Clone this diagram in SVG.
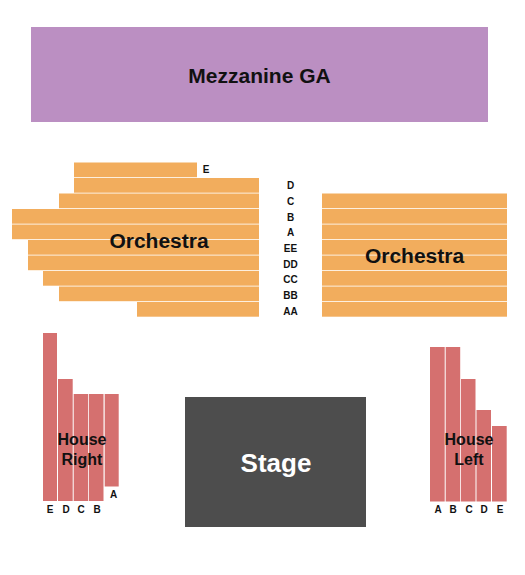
<svg xmlns="http://www.w3.org/2000/svg" width="525" height="575" viewBox="0 0 525 575">
<style>
.o{fill:#F2AD5D}
.h{fill:#D5706F}
.lbl{font-family:"Liberation Sans",Arial,sans-serif;font-weight:bold;fill:#111}
.big{font-size:21px;text-anchor:middle}
.hs{font-size:16px;text-anchor:middle}
.row{font-size:10px;text-anchor:middle}
</style>
<rect width="525" height="575" fill="#fff"/>
<g id="mezzanine">
<rect x="31" y="27" width="457" height="95" fill="#BB8FC2"/>
<text class="lbl big" x="259.5" y="83">Mezzanine GA</text>
</g>
<g id="orchestra-left">
<rect class="o" x="74" y="162.5" width="123" height="14.7"/>
<rect class="o" x="74" y="178" width="185" height="14.7"/>
<rect class="o" x="59" y="193.5" width="200" height="14.7"/>
<rect class="o" x="12" y="209" width="247" height="14.7"/>
<rect class="o" x="12" y="224.5" width="247" height="14.7"/>
<rect class="o" x="28" y="240" width="231" height="14.7"/>
<rect class="o" x="28" y="255.5" width="231" height="14.7"/>
<rect class="o" x="43" y="271" width="216" height="14.7"/>
<rect class="o" x="59" y="286.5" width="200" height="14.7"/>
<rect class="o" x="137" y="302" width="122" height="14.7"/>
<text class="lbl big" x="159" y="248">Orchestra</text>
</g>
<g id="orchestra-right">
<rect class="o" x="322" y="193.5" width="185" height="14.7"/>
<rect class="o" x="322" y="209" width="185" height="14.7"/>
<rect class="o" x="322" y="224.5" width="185" height="14.7"/>
<rect class="o" x="322" y="240" width="185" height="14.7"/>
<rect class="o" x="322" y="255.5" width="185" height="14.7"/>
<rect class="o" x="322" y="271" width="185" height="14.7"/>
<rect class="o" x="322" y="286.5" width="185" height="14.7"/>
<rect class="o" x="322" y="302" width="185" height="14.7"/>
<text class="lbl big" x="414.5" y="263">Orchestra</text>
</g>
<g id="row-labels">
<text class="lbl row" x="206" y="173">E</text>
<text class="lbl row" x="290.5" y="189">D</text>
<text class="lbl row" x="290.5" y="205">C</text>
<text class="lbl row" x="290.5" y="221">B</text>
<text class="lbl row" x="290.5" y="236">A</text>
<text class="lbl row" x="290.5" y="252">EE</text>
<text class="lbl row" x="290.5" y="268">DD</text>
<text class="lbl row" x="290.5" y="283">CC</text>
<text class="lbl row" x="290.5" y="299">BB</text>
<text class="lbl row" x="290.5" y="315">AA</text>
</g>
<g id="house-right">
<rect class="h" x="43" y="333" width="14" height="168"/>
<rect class="h" x="58" y="379" width="14.7" height="122"/>
<rect class="h" x="73.7" y="394" width="14.5" height="107"/>
<rect class="h" x="89" y="394" width="14.5" height="107"/>
<rect class="h" x="104.7" y="394" width="14" height="92.5"/>
<text class="lbl hs" x="82" y="445">House</text>
<text class="lbl hs" x="82" y="465">Right</text>
<text class="lbl row" x="50" y="513">E</text>
<text class="lbl row" x="66" y="513">D</text>
<text class="lbl row" x="81" y="513">C</text>
<text class="lbl row" x="97" y="513">B</text>
<text class="lbl row" x="113.5" y="498">A</text>
</g>
<g id="house-left">
<rect class="h" x="430" y="347" width="14.7" height="154.5"/>
<rect class="h" x="445.7" y="347" width="14.5" height="154.5"/>
<rect class="h" x="461" y="379" width="14.5" height="122.5"/>
<rect class="h" x="476.5" y="410" width="14.5" height="91.5"/>
<rect class="h" x="492" y="426" width="14.7" height="75.5"/>
<text class="lbl hs" x="469" y="445">House</text>
<text class="lbl hs" x="469" y="465">Left</text>
<text class="lbl row" x="438" y="513">A</text>
<text class="lbl row" x="453" y="513">B</text>
<text class="lbl row" x="469" y="513">C</text>
<text class="lbl row" x="484" y="513">D</text>
<text class="lbl row" x="500" y="513">E</text>
</g>
<g id="stage">
<rect x="185" y="397" width="181" height="130" fill="#4D4D4D"/>
<text x="276" y="472" font-family="Liberation Sans,Arial,sans-serif" font-weight="bold" font-size="26" fill="#fff" text-anchor="middle">Stage</text>
</g>
<g id="connectors"/>
</svg>
